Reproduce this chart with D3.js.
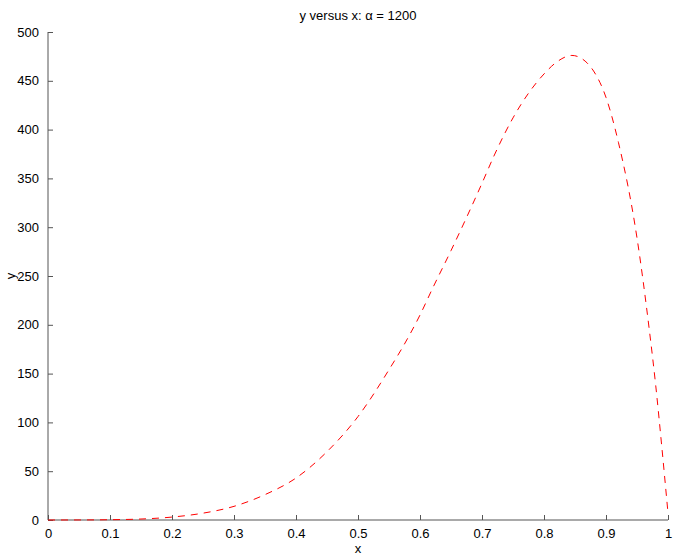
<!DOCTYPE html>
<html>
<head>
<meta charset="utf-8">
<script src="https://cdn.jsdelivr.net/npm/d3@7"></script>
<style>
  body { margin: 0; background: #fff; }
  svg { display: block; }
  text { font-family: "Liberation Sans", Arial, Helvetica, sans-serif; }
</style>
</head>
<body>
<svg id="chart" width="677" height="557"></svg>
<script>
// Data
const xValues = [0, 0.05, 0.1, 0.15, 0.2, 0.25, 0.3, 0.35, 0.4, 0.45, 0.5, 0.55, 0.58, 0.6, 0.62, 0.65, 0.7, 0.72, 0.75, 0.8, 0.82, 0.845, 0.87, 0.88, 0.9, 0.92, 0.95, 0.97, 0.98, 0.99, 1.0];
const yValues = [0, 0.05, 0.3, 1, 3, 7, 14, 26, 43, 70, 106, 154, 186, 210, 237, 276, 345, 374, 412, 457, 469, 476, 468, 460, 433, 387, 289, 194, 139, 75, 7];
const xTicks = [0, 0.1, 0.2, 0.3, 0.4, 0.5, 0.6, 0.7, 0.8, 0.9, 1];
const yTicks = [0, 50, 100, 150, 200, 250, 300, 350, 400, 450, 500];
const titleText = "y versus x: α = 1200";
const xLabel = "x";
const yLabel = "y";

const svg = d3.select("#chart");
const margin = { left: 48, right: 9, top: 32, bottom: 37 };
const W = 677, H = 557;

const x = d3.scaleLinear().domain([0, 1]).range([margin.left, W - margin.right]);
const y = d3.scaleLinear().domain([0, 500]).range([H - margin.bottom, margin.top]);

const axisColor = "#555";

// x axis
const xAxis = d3.axisBottom(x).tickValues(xTicks).tickSize(-5).tickPadding(9)
  .tickFormat(d => d3.format("")(d));
const gx = svg.append("g").attr("transform", `translate(0,${y(0)})`).call(xAxis);
gx.select(".domain").attr("stroke", axisColor).attr("d", `M${x(0)},0H${x(1)}`);
gx.selectAll(".tick line").attr("stroke", axisColor);
gx.selectAll(".tick text").attr("font-size", 13).attr("fill", "#000");

// y axis
const yAxis = d3.axisLeft(y).tickValues(yTicks).tickSize(-5).tickPadding(9);
const gy = svg.append("g").attr("transform", `translate(${x(0)},0)`).call(yAxis);
gy.select(".domain").attr("stroke", axisColor).attr("d", `M0,${y(0)}V${y(500)}`);
gy.selectAll(".tick line").attr("stroke", axisColor);
gy.selectAll(".tick text").attr("font-size", 13).attr("fill", "#000");

// curve
const data = xValues.map((d, i) => ({ x: d, y: yValues[i] }));
const line = d3.line().x(d => x(d.x)).y(d => y(d.y)).curve(d3.curveMonotoneX);
svg.append("path").datum(data)
  .attr("d", line)
  .attr("fill", "none")
  .attr("stroke", "#ff0000")
  .attr("stroke-width", 1)
  .attr("stroke-dasharray", "7,6");

// title
svg.append("text").attr("x", (x(0) + x(1)) / 2).attr("y", 20)
  .attr("text-anchor", "middle").attr("font-size", 13).attr("fill", "#000")
  .text(titleText);

// axis labels
svg.append("text").attr("x", (x(0) + x(1)) / 2).attr("y", 553)
  .attr("text-anchor", "middle").attr("font-size", 13).attr("fill", "#000")
  .text(xLabel);
svg.append("text").attr("transform", `translate(15,${(y(0) + y(500)) / 2}) rotate(-90)`)
  .attr("text-anchor", "middle").attr("font-size", 13).attr("fill", "#000")
  .text(yLabel);
</script>
</body>
</html>
